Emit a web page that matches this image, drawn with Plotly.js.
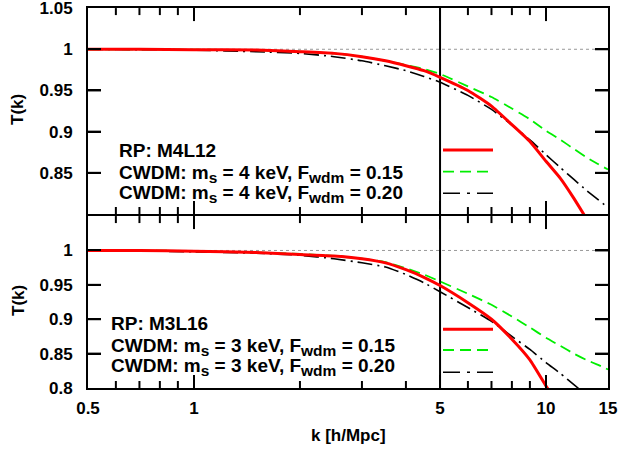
<!DOCTYPE html>
<html>
<head>
<meta charset="utf-8">
<script src="https://cdn.plot.ly/plotly-3.0.1.min.js"></script>
<style>html,body{margin:0;padding:0;background:#fff;}</style>
</head>
<body>
<div id="plot"></div>
<script>
// ---- data ----
// top panel: M4L12
const kTopRed   = [0.5, 0.7, 1, 1.5, 2, 2.5, 3, 3.5, 4, 4.5, 5, 6, 7, 8, 9, 10, 11, 12, 13];
const tTopRed   = [1.000, 1.000, 0.9995, 0.999, 0.997, 0.995, 0.991, 0.986, 0.980, 0.974, 0.966, 0.950, 0.931, 0.9085, 0.888, 0.864, 0.843, 0.819, 0.795];
const kTopGreen = [0.5, 0.7, 1, 1.5, 2, 2.5, 3, 3.5, 4, 4.5, 5, 6, 7, 8, 9, 10, 11, 12, 13, 14, 15];
const tTopGreen = [1.000, 1.000, 0.9995, 0.999, 0.997, 0.995, 0.991, 0.986, 0.981, 0.976, 0.970, 0.955, 0.942, 0.928, 0.915, 0.901, 0.890, 0.879, 0.869, 0.861, 0.854];
const kTopBlack = [0.5, 0.7, 1, 1.5, 2, 2.5, 3, 3.5, 4, 4.5, 5, 6, 7, 8, 9, 10, 11, 12, 13, 14, 15];
const tTopBlack = [1.000, 0.9995, 0.999, 0.997, 0.995, 0.991, 0.986, 0.980, 0.974, 0.967, 0.960, 0.944, 0.927, 0.908, 0.890, 0.872, 0.856, 0.842, 0.829, 0.818, 0.808];
// bottom panel: M3L16
const kBotRed   = [0.5, 0.7, 1, 1.5, 2, 2.5, 3, 3.5, 4, 4.5, 5, 6, 7, 8, 9, 10, 10.5];
const tBotRed   = [1.000, 1.000, 0.999, 0.997, 0.994, 0.992, 0.988, 0.982, 0.972, 0.961, 0.949, 0.924, 0.900, 0.871, 0.841, 0.803, 0.786];
const kBotGreen = [0.5, 0.7, 1, 1.5, 2, 2.5, 3, 3.5, 4, 4.5, 5, 6, 7, 8, 9, 10, 11, 12, 13, 14, 15];
const tBotGreen = [1.000, 1.000, 0.999, 0.997, 0.995, 0.992, 0.988, 0.983, 0.974, 0.965, 0.955, 0.937, 0.921, 0.904, 0.888, 0.873, 0.861, 0.850, 0.841, 0.834, 0.827];
const kBotBlack = [0.5, 0.7, 1, 1.5, 2, 2.5, 3, 3.5, 4, 4.5, 5, 6, 7, 8, 9, 10, 11, 12, 13];
const tBotBlack = [1.000, 0.9995, 0.998, 0.996, 0.993, 0.988, 0.982, 0.976, 0.965, 0.953, 0.940, 0.917, 0.897, 0.875, 0.856, 0.837, 0.821, 0.805, 0.790];

const kDivide = 5;
const kRange = [0.5, 15];
const tRange = [0.8, 1.0501];
const tEdges = [0.8, 1.05];
const xTickVals = [0.5, 1, 5, 10, 15];
const xTickText = ['0.5', '1', '5', '10', '15'];
const xMajorInner = [1, 10];
const xMinorVals = [0.6, 0.7, 0.8, 0.9, 2, 3, 4, 6, 7, 8, 9];
const yTickVals = [0.8, 0.85, 0.9, 0.95, 1, 1.05];
const yTopTickText = [' ', '0.85', '0.9', '0.95', '1', '1.05'];
const yBotTickText = ['0.8', '0.85', '0.9', '0.95', '1', ' '];
const yInnerTicks = [0.85, 0.9, 0.95, 1];

const SUB = s => '<sub><span style="font-size:15.5px">' + s + '</span></sub>';
const topLabels = ['RP: M4L12', 'CWDM: m' + SUB('s') + ' = 4 keV, F' + SUB('wdm') + ' = 0.15', 'CWDM: m' + SUB('s') + ' = 4 keV, F' + SUB('wdm') + ' = 0.20'];
const botLabels = ['RP: M3L16', 'CWDM: m' + SUB('s') + ' = 3 keV, F' + SUB('wdm') + ' = 0.15', 'CWDM: m' + SUB('s') + ' = 3 keV, F' + SUB('wdm') + ' = 0.20'];

// ---- styles ----
const FONT = 'Liberation Sans, Arial, Helvetica, sans-serif';
const RED = '#ff0000', GREEN = '#00ee00', BLACK = '#000000';
const redLine = {color: RED, width: 3};
const greenLine = {color: GREEN, width: 1.8, dash: '11px,6px'};
const blackLine = {color: BLACK, width: 1.6, dash: '15px,5px,2px,5px'};
const sm = l => Object.assign({shape: 'spline', smoothing: 0.5}, l);

const W = 621, H = 451, ML = 88, MR = 13, MT = 8, MB = 63;
const PW = W - ML - MR, PH = H - MT - MB;
const px = v => (v - ML) / PW;
const py = v => (H - MB - v) / PH;
const botDom = [0, 172 / 380], topDom = [174 / 380, 1];

// tick marks: inside, on all four edges of each panel; one small line trace per tick
const MAJ = 13, MIN = 7;
const decPerPx = (Math.log10(kRange[1]) - Math.log10(kRange[0])) / PW;
function tickTraces(xa, ya, dom) {
  const hp = (dom[1] - dom[0]) * PH;
  const dyPerPx = (tRange[1] - tRange[0]) / hp;
  const out = [];
  const seg = (x, y) => out.push({x: x, y: y, xaxis: xa, yaxis: ya, mode: 'lines', line: {color: '#000', width: 2, simplify: false}, cliponaxis: false});
  const addX = (vals, len) => vals.forEach(v => {
    seg([v, v], [tEdges[0], tEdges[0] + len * dyPerPx]);
    seg([v, v], [tEdges[1] - len * dyPerPx, tEdges[1]]);
  });
  addX(xMajorInner, MAJ);
  addX(xMinorVals, MIN);
  const f = Math.pow(10, MAJ * decPerPx);
  yInnerTicks.forEach(v => {
    seg([kRange[0], kRange[0] * f], [v, v]);
    seg([kRange[1] / f, kRange[1]], [v, v]);
  });
  return out;
}

function ref(xa, ya) {
  return [
    {x: kRange, y: [1, 1], xaxis: xa, yaxis: ya, mode: 'lines', line: {color: '#999', width: 1, dash: 'dot'}},
    {x: [kDivide, kDivide], y: tEdges, xaxis: xa, yaxis: ya, mode: 'lines', line: {color: '#000', width: 2}}
  ];
}

const traces = [
  ...ref('x2', 'y2'),
  ...tickTraces('x2', 'y2', topDom),
  {x: kTopBlack, y: tTopBlack, xaxis: 'x2', yaxis: 'y2', mode: 'lines', line: sm(blackLine)},
  {x: kTopGreen, y: tTopGreen, xaxis: 'x2', yaxis: 'y2', mode: 'lines', line: sm(greenLine)},
  {x: kTopRed,   y: tTopRed,   xaxis: 'x2', yaxis: 'y2', mode: 'lines', line: sm(redLine)},
  ...ref('x', 'y'),
  ...tickTraces('x', 'y', botDom),
  {x: kBotBlack, y: tBotBlack, xaxis: 'x', yaxis: 'y', mode: 'lines', line: sm(blackLine)},
  {x: kBotGreen, y: tBotGreen, xaxis: 'x', yaxis: 'y', mode: 'lines', line: sm(greenLine)},
  {x: kBotRed,   y: tBotRed,   xaxis: 'x', yaxis: 'y', mode: 'lines', line: sm(redLine)}
];
traces.forEach(t => { t.hoverinfo = 'skip'; });

const logRange = [Math.log10(kRange[0]), Math.log10(kRange[1])];
const tickFont = {family: FONT, size: 17, color: '#000'};
function xAxis(extra) {
  return Object.assign({
    type: 'log', range: logRange,
    tickmode: 'array', tickvals: xTickVals, ticktext: xTickText,
    ticks: 'inside', ticklen: MAJ, tickwidth: 1.5, tickcolor: 'black',
    showline: true, linewidth: 2, linecolor: 'black', mirror: 'ticks',
    showgrid: false, zeroline: false, ticklabelstandoff: 4, ticklabeloverflow: 'allow',
    tickfont: tickFont
  }, extra);
}
function yAxis(extra) {
  return Object.assign({
    range: tRange, tickmode: 'array', tickvals: yTickVals,
    ticks: 'inside', ticklen: MAJ, tickwidth: 1.5, tickcolor: 'black',
    showline: true, linewidth: 2, linecolor: 'black', mirror: 'ticks',
    showgrid: false, zeroline: false, ticklabeloverflow: 'allow', ticklabelstandoff: 10,
    tickfont: tickFont
  }, extra);
}

const annFont = {family: FONT, size: 17, color: '#000'};
const legFont = {family: FONT, size: 19, color: '#000'};
const B = s => '<b>' + s + '</b>';
const annotations = [
  {text: B('T(k)'), xref: 'paper', yref: 'paper', x: px(18), y: py(110), textangle: -90, showarrow: false, font: annFont, xanchor: 'center', yanchor: 'middle'},
  {text: B('T(k)'), xref: 'paper', yref: 'paper', x: px(18), y: py(301), textangle: -90, showarrow: false, font: annFont, xanchor: 'center', yanchor: 'middle'},
  {text: B('k [h/Mpc]'), xref: 'paper', yref: 'paper', x: px(348), y: py(435), showarrow: false, font: annFont, xanchor: 'center', yanchor: 'middle'}
];
const topY = [150.5, 174, 194];
const botY = [323, 347, 367];
topLabels.forEach((t, i) => annotations.push({text: B(t), xref: 'paper', yref: 'paper', x: px(117), y: py(topY[i]), showarrow: false, font: legFont, xanchor: 'left', yanchor: 'middle'}));
botLabels.forEach((t, i) => annotations.push({text: B(t), xref: 'paper', yref: 'paper', x: px(109), y: py(botY[i]), showarrow: false, font: legFont, xanchor: 'left', yanchor: 'middle'}));

const sampleTopY = [150, 171.7, 193.3];
const sampleBotY = [329.3, 350, 372.3];
const sampleStyles = [redLine, greenLine, {color: BLACK, width: 1.6, dash: '17px,7px,3px,7px'}];
const shapes = [];
[sampleTopY, sampleBotY].forEach(arr => arr.forEach((v, i) => {
  const s = sampleStyles[i];
  shapes.push({type: 'line', xref: 'paper', yref: 'paper', x0: px(443), x1: px(493), y0: py(v), y1: py(v),
    line: {color: s.color, width: s.width, dash: s.dash || 'solid'}});
}));

const layout = {
  width: W, height: H,
  margin: {l: ML, r: MR, t: MT, b: MB, pad: 0},
  paper_bgcolor: 'white', plot_bgcolor: 'white',
  showlegend: false,
  font: {family: FONT, size: 17, color: '#000', weight: 700},
  xaxis: xAxis({anchor: 'y', domain: [0, 1]}),
  xaxis2: xAxis({anchor: 'y2', domain: [0, 1], showticklabels: false}),
  yaxis: yAxis({anchor: 'x', domain: botDom, ticktext: yBotTickText}),
  yaxis2: yAxis({anchor: 'x2', domain: topDom, ticktext: yTopTickText}),
  annotations: annotations,
  shapes: shapes
};

Plotly.newPlot('plot', traces, layout, {displayModeBar: false});
</script>
</body>
</html>
